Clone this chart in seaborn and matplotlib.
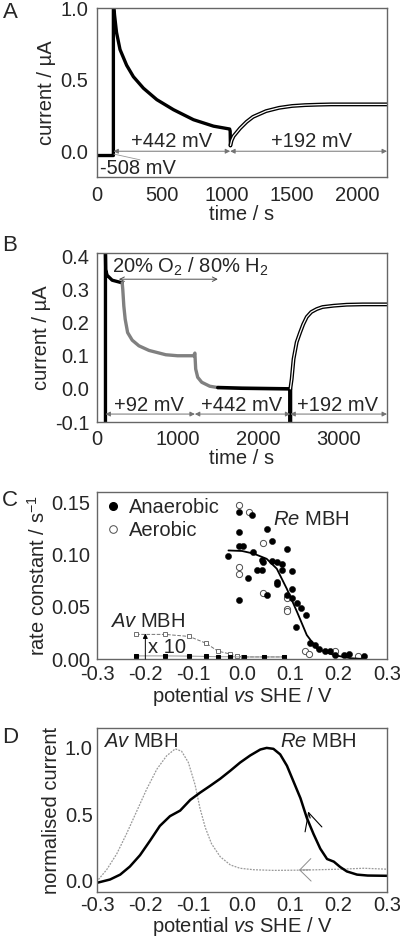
import matplotlib
matplotlib.use("Agg")
import matplotlib.pyplot as plt
import seaborn as sns
from matplotlib.lines import Line2D
from matplotlib.ticker import MultipleLocator

# ---- panel A: chronoamperometry, Re MBH ----
a_t = [0, 126, 126, 135, 150, 177, 228, 280, 357, 460, 588, 742, 896, 1020, 1024, 1026]
a_i = [-0.03, -0.03, 1.05, 0.95, 0.83, 0.71, 0.60, 0.52, 0.44, 0.36, 0.29, 0.22, 0.175, 0.155, 0.14, 0.04]
a_rise_t = [1026, 1035, 1050, 1100, 1150, 1200, 1300, 1400, 1500, 1600, 1700, 1800, 2000, 2230]
a_rise_i = [0.04, 0.075, 0.105, 0.16, 0.205, 0.24, 0.28, 0.303, 0.316, 0.322, 0.325, 0.327, 0.327, 0.327]

# ---- panel B: O2 / H2 experiment ----
b_start_t = [105, 105, 108, 125, 188, 250, 313]
b_start_i = [-0.1, 0.41, 0.36, 0.343, 0.328, 0.324, 0.32]
b_o2_t = [313, 320, 333, 350, 380, 437, 520, 646, 854, 1000, 1200, 1215, 1225, 1250, 1300, 1400, 1500]
b_o2_i = [0.32, 0.30, 0.25, 0.21, 0.17, 0.147, 0.13, 0.116, 0.103, 0.1, 0.1, 0.108, 0.06, 0.035, 0.02, 0.008, 0.004]
b_flat_t = [1500, 1800, 2100, 2400, 2400, 2400]
b_flat_i = [0.004, 0.002, 0.001, 0.0, -0.1, 0.0]
b_rise_t = [2400, 2417, 2440, 2479, 2521, 2560, 2604, 2660, 2729, 2800, 2938, 3100, 3300, 3600]
b_rise_i = [0.0, 0.03, 0.09, 0.141, 0.17, 0.195, 0.217, 0.232, 0.241, 0.247, 0.251, 0.254, 0.255, 0.255]

# ---- panel C: rate constants ----
anaer_x = [-0.007, -0.007, -0.007, 0.002, -0.028, 0.020, 0.022, 0.052, 0.062, 0.093,
           0.042, 0.044, 0.062, 0.073, 0.083, -0.007, 0.012, 0.032, 0.041, 0.083,
           0.103, 0.072, 0.073, 0.103, 0.093, 0.052, 0.103, 0.114, 0.122, 0.132,
           0.112, 0.141, 0.152, 0.160, 0.172, 0.183, 0.193, 0.210, 0.221, 0.252]
anaer_y = [0.1405, 0.122, 0.1078, 0.1078, 0.099, 0.138, 0.103, 0.1246, 0.1135, 0.1055,
           0.095, 0.093, 0.094, 0.0925, 0.0906, 0.0563, 0.078, 0.085, 0.085, 0.085,
           0.084, 0.0734, 0.072, 0.0674, 0.061, 0.061, 0.0588, 0.0537, 0.049, 0.042,
           0.031, 0.015, 0.013, 0.010, 0.0076, 0.0076, 0.0038, 0.0038, 0.0048, 0.0025]
aer_x = [-0.007, 0.0155, 0.043, -0.007, -0.007, 0.043, 0.093, 0.093, 0.093, 0.131, 0.138, 0.193, 0.239]
aer_y = [0.148, 0.141, 0.111, 0.088, 0.081, 0.063, 0.058, 0.048, 0.046, 0.008, 0.005, 0.008, 0.003]
fit_x = [-0.028, 0.0, 0.024, 0.051, 0.072, 0.093, 0.114, 0.134, 0.155, 0.19, 0.224, 0.252]
fit_y = [0.104, 0.1035, 0.101, 0.096, 0.0865, 0.067, 0.045, 0.023, 0.010, 0.0038, 0.0008, 0.0]
av10_x = [-0.219, -0.159, -0.109, -0.074, -0.050, -0.0245, -0.0107, 0.002, 0.0445, 0.086]
av10_y = [0.0236, 0.0236, 0.0216, 0.015, 0.0076, 0.0048, 0.0029, 0.002, 0.002, 0.002]
av_x = [-0.219, -0.159, -0.109, -0.074, -0.050, -0.0245, 0.0045, 0.0445, 0.086]
av_y = [0.0030, 0.0030, 0.0028, 0.0025, 0.0022, 0.0022, 0.002, 0.002, 0.002]

# ---- panel D: normalised voltammograms ----
re_x = [-0.3, -0.273, -0.252, -0.232, -0.211, -0.19, -0.17, -0.149, -0.128, -0.107,
        -0.087, -0.066, -0.045, -0.024, -0.004, 0.017, 0.038, 0.051, 0.065, 0.079,
        0.093, 0.107, 0.121, 0.134, 0.148, 0.162, 0.176, 0.19, 0.203, 0.217,
        0.238, 0.26, 0.3]
re_y = [-0.02, 0.005, 0.042, 0.103, 0.189, 0.30, 0.41, 0.484, 0.526, 0.607,
        0.661, 0.713, 0.767, 0.828, 0.889, 0.943, 0.988, 1.0, 0.993, 0.951,
        0.865, 0.742, 0.619, 0.472, 0.349, 0.238, 0.16, 0.14, 0.10, 0.066,
        0.042, 0.035, 0.033]
avd_x = [-0.297, -0.28, -0.259, -0.239, -0.218, -0.197, -0.176, -0.156, -0.138, -0.125,
         -0.111, -0.097, -0.087, -0.076, -0.063, -0.045, -0.024, -0.004, 0.024, 0.065,
         0.127, 0.203, 0.252, 0.3]
avd_y = [0.005, 0.079, 0.2, 0.35, 0.52, 0.69, 0.84, 0.94, 0.993, 0.975,
         0.89, 0.72, 0.545, 0.398, 0.275, 0.177, 0.115, 0.09, 0.079, 0.074,
         0.076, 0.083, 0.09, 0.083]

FS = 14.5

sns.set_style("white")
plt.rcParams['font.family'] = ['Liberation Sans', 'DejaVu Sans']
plt.rcParams['mathtext.fontset'] = 'custom'
plt.rcParams['mathtext.rm'] = 'Liberation Sans'
plt.rcParams['mathtext.it'] = 'Liberation Sans:italic'
plt.rcParams['axes.unicode_minus'] = False
plt.rcParams['font.size'] = FS
plt.rcParams['axes.labelsize'] = FS

fig = plt.figure(figsize=(4.0, 9.42), dpi=100)
L, W = 0.2425, 0.725
axA = fig.add_axes([L, 0.8121, W, 0.1794])
axB = fig.add_axes([L, 0.552, W, 0.1794])
axC = fig.add_axes([L, 0.3004, W, 0.1773])
axD = fig.add_axes([L, 0.0530, W, 0.1741])


def style(ax, pad):
    for s in ax.spines.values():
        s.set_color('0.4')
        s.set_linewidth(1.0)
    ax.tick_params(which='both', direction='in', color='0.4', labelsize=FS,
                   top=False, right=False, pad=pad)
    ax.tick_params(which='major', length=4)
    ax.tick_params(which='minor', length=2.5)


def arrow(ax, x1, x2, y, color='0.45', style_='<|-|>', lw=0.7, ms=7):
    ax.annotate('', xy=(x2, y), xytext=(x1, y),
                arrowprops=dict(arrowstyle=style_, color=color, lw=lw,
                                mutation_scale=ms, shrinkA=0, shrinkB=0))


# A
sns.lineplot(x=a_t, y=a_i, sort=False, estimator=None, color='black', lw=2.4, ax=axA)
sns.lineplot(x=a_rise_t, y=a_rise_i, sort=False, estimator=None, color='black', lw=2.8, ax=axA)
sns.lineplot(x=a_rise_t, y=a_rise_i, sort=False, estimator=None, color='white', lw=0.9, ax=axA)
axA.set_xlim(0, 2230)
axA.set_ylim(-0.18, 1.0)
axA.xaxis.set_major_locator(MultipleLocator(500))
axA.xaxis.set_minor_locator(MultipleLocator(250))
axA.yaxis.set_major_locator(MultipleLocator(0.5))
axA.yaxis.set_minor_locator(MultipleLocator(0.25))
arrow(axA, 126, 1024, 0.0)
arrow(axA, 1024, 2230, 0.0)
axA.plot([130, 330], [-0.02, -0.06], color='0.6', lw=0.6)
axA.text(575, 0.07, '+442 mV', ha='center', va='center')
axA.text(1653, 0.07, '+192 mV', ha='center', va='center')
axA.text(23, -0.118, '-508 mV', ha='left', va='center')
axA.set_xlabel('time / s', labelpad=0)
axA.set_ylabel('current / µA', labelpad=3)
style(axA, 6.5)

# B
sns.lineplot(x=b_start_t, y=b_start_i, sort=False, estimator=None, color='black', lw=2.4, ax=axB)
sns.lineplot(x=b_o2_t, y=b_o2_i, sort=False, estimator=None, color='#808080', lw=2.4, ax=axB)
sns.lineplot(x=b_flat_t, y=b_flat_i, sort=False, estimator=None, color='black', lw=2.6, ax=axB)
sns.lineplot(x=b_rise_t, y=b_rise_i, sort=False, estimator=None, color='black', lw=2.8, ax=axB)
sns.lineplot(x=b_rise_t, y=b_rise_i, sort=False, estimator=None, color='white', lw=0.9, ax=axB)
axB.set_xlim(0, 3600)
axB.set_ylim(-0.1, 0.41)
axB.xaxis.set_major_locator(MultipleLocator(1000))
axB.xaxis.set_minor_locator(MultipleLocator(500))
axB.yaxis.set_major_locator(MultipleLocator(0.1))
axB.yaxis.set_minor_locator(MultipleLocator(0.05))
arrow(axB, 105, 1215, -0.076)
arrow(axB, 1215, 2400, -0.076)
arrow(axB, 2400, 3600, -0.076)
arrow(axB, 271, 1500, 0.331, color='0.3', style_='<->', lw=0.7, ms=8)
axB.text(646, -0.05, '+92 mV', ha='center', va='center')
axB.text(1792, -0.05, '+442 mV', ha='center', va='center')
axB.text(2980, -0.05, '+192 mV', ha='center', va='center')
axB.text(188, 0.352, '20% O$_2$ / 80% H$_2$', ha='left', va='baseline')
axB.set_xlabel('time / s', labelpad=0)
axB.set_ylabel('current / µA', labelpad=3)
style(axB, 5.5)

# C
sns.lineplot(x=av10_x, y=av10_y, sort=False, estimator=None, color='0.45', lw=0.7,
             ls='--', marker='s', ms=3, mfc='white', mec='0.35', mew=0.6, ax=axC)
sns.lineplot(x=av_x, y=av_y, sort=False, estimator=None, color='0.6', lw=0.7,
             marker='s', ms=3.5, mfc='black', mec='black', ax=axC)
sns.lineplot(x=fit_x, y=fit_y, sort=False, estimator=None, color='black', lw=1.3, ax=axC)
sns.scatterplot(x=aer_x, y=aer_y, s=20, facecolor='white', edgecolor='0.3', linewidth=0.7, ax=axC)
sns.scatterplot(x=anaer_x, y=anaer_y, s=20, color='black', edgecolor='black', linewidth=0.3, ax=axC)
axC.annotate('', xy=(-0.2, 0.0245), xytext=(-0.2, 0.0),
             arrowprops=dict(arrowstyle='-|>', color='black', lw=0.7,
                             mutation_scale=7, shrinkA=0, shrinkB=0))
axC.text(-0.194, 0.011, 'x 10', ha='left', va='center')
axC.text(-0.273, 0.0355, '$Av$ MBH', ha='left', va='center')
axC.text(0.065, 0.134, '$Re$ MBH', ha='left', va='center')
handles = [Line2D([], [], ls='', marker='o', ms=5.5, mfc='black', mec='black'),
           Line2D([], [], ls='', marker='o', ms=5.5, mfc='white', mec='0.3', mew=0.7)]
axC.legend(handles, ['Anaerobic', 'Aerobic'], loc='upper left', frameon=False,
           fontsize=FS, handletextpad=0.3, handlelength=1.0, borderaxespad=0.1,
           labelspacing=0.2, borderpad=0.2)
axC.set_xlim(-0.3, 0.3)
axC.set_ylim(0, 0.16)
axC.xaxis.set_major_locator(MultipleLocator(0.1))
axC.xaxis.set_minor_locator(MultipleLocator(0.05))
axC.yaxis.set_major_locator(MultipleLocator(0.05))
axC.yaxis.set_minor_locator(MultipleLocator(0.025))
axC.set_xlabel('potential $vs$ SHE / V', labelpad=0.5)
axC.set_ylabel('rate constant / s$^{-1}$', labelpad=2)
style(axC, 4.5)

# D
sns.lineplot(x=avd_x, y=avd_y, sort=False, estimator=None, color='0.6', lw=0.9,
             ls=(0, (1.5, 1.0)), ax=axD)
sns.lineplot(x=re_x, y=re_y, sort=False, estimator=None, color='black', lw=1.8, ax=axD)
axD.annotate('', xy=(0.137, 0.52), xytext=(0.141, 0.47),
             arrowprops=dict(arrowstyle='->,head_length=0.7,head_width=0.35',
                             color='black', lw=0.8, mutation_scale=18, shrinkA=0, shrinkB=0))
axD.annotate('', xy=(0.118, 0.077), xytext=(0.14, 0.078),
             arrowprops=dict(arrowstyle='->,head_length=0.45,head_width=0.45',
                             color='0.55', lw=0.7, mutation_scale=18, shrinkA=0, shrinkB=0))
axD.text(-0.287, 1.05, '$Av$ MBH', ha='left', va='center')
axD.text(0.079, 1.05, '$Re$ MBH', ha='left', va='center')
axD.set_xlim(-0.3, 0.3)
axD.set_ylim(-0.09, 1.15)
axD.xaxis.set_major_locator(MultipleLocator(0.1))
axD.xaxis.set_minor_locator(MultipleLocator(0.05))
axD.yaxis.set_major_locator(MultipleLocator(0.5))
axD.yaxis.set_minor_locator(MultipleLocator(0.25))
axD.set_xlabel('potential $vs$ SHE / V', labelpad=-0.5)
axD.set_ylabel('normalised current', labelpad=3)
style(axD, 3.0)

for lab, y in zip('ABCD', [0.987, 0.739, 0.469, 0.2166]):
    fig.text(0.025, y, lab, ha='center', va='center', fontsize=16)

fig.savefig('out.png', dpi=100)
